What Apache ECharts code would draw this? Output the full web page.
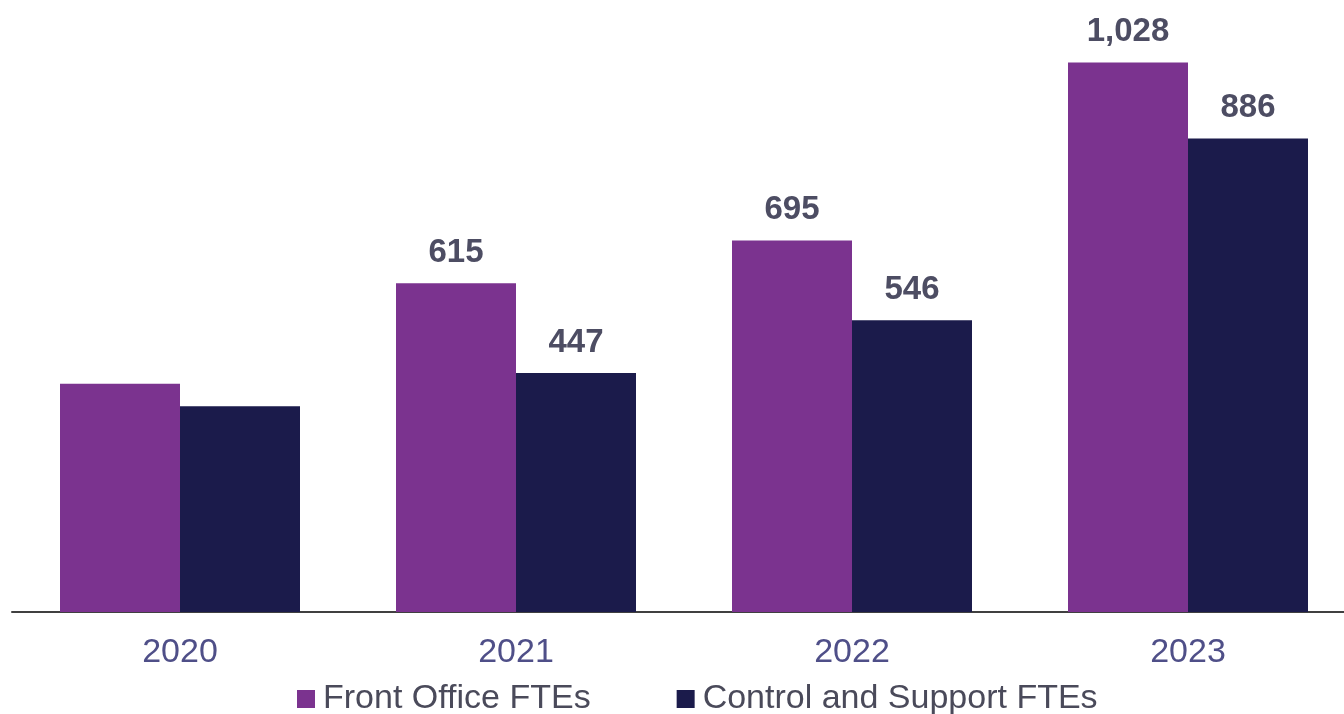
<!DOCTYPE html>
<html>
<head>
<meta charset="utf-8">
<script src="https://cdn.jsdelivr.net/npm/echarts@6/dist/echarts.min.js"></script>
<style>
html,body{margin:0;padding:0;background:#fff;}
#chart{width:1344px;height:714px;}
</style>
</head>
<body>
<div id="chart"></div>
<script>
const categories = ['2020', '2021', '2022', '2023'];
const frontOffice = [427, 615, 695, 1028];
const controlSupport = [385, 447, 546, 886];
const showLabel = [false, true, true, true];
const seriesNames = ['Front Office FTEs', 'Control and Support FTEs'];

const chart = echarts.init(document.getElementById('chart'));
const fontFamily = '"Liberation Sans", Arial, sans-serif';
const labelStyle = {
  position: 'top',
  distance: 14,
  fontFamily: fontFamily,
  fontSize: 33,
  fontWeight: 'bold',
  color: '#4d4d63',
  formatter: p => p.value.toLocaleString('en-US')
};
function mk(vals) {
  return vals.map((v, i) => ({ value: v, label: { show: showLabel[i] } }));
}
chart.setOption({
  animation: false,
  grid: { left: 12, top: 24, right: -12, bottom: 102, containLabel: false, outerBoundsMode: 'none' },
  legend: {
    left: 297,
    top: 682,
    padding: 0,
    itemWidth: 18,
    itemHeight: 18,
    itemGap: 86,
    icon: 'rect',
    textStyle: { fontFamily: fontFamily, fontSize: 34, color: '#4a4a5a', padding: [0, 0, 0, 3] },
    data: seriesNames
  },
  xAxis: {
    type: 'category',
    data: categories,
    axisTick: { show: false },
    axisLine: { lineStyle: { color: '#404040', width: 2 } },
    axisLabel: { fontFamily: fontFamily, fontSize: 34, color: '#4f4f88', margin: 24 }
  },
  yAxis: {
    type: 'value',
    min: 0,
    max: 1100,
    show: false,
    splitLine: { show: false }
  },
  series: [
    {
      name: seriesNames[0],
      type: 'bar',
      barWidth: 120,
      barGap: '0%',
      itemStyle: { color: '#7b338f' },
      label: labelStyle,
      data: mk(frontOffice)
    },
    {
      name: seriesNames[1],
      type: 'bar',
      barWidth: 120,
      barGap: '0%',
      itemStyle: { color: '#1b1b4b' },
      label: labelStyle,
      data: mk(controlSupport)
    }
  ]
});
</script>
</body>
</html>
